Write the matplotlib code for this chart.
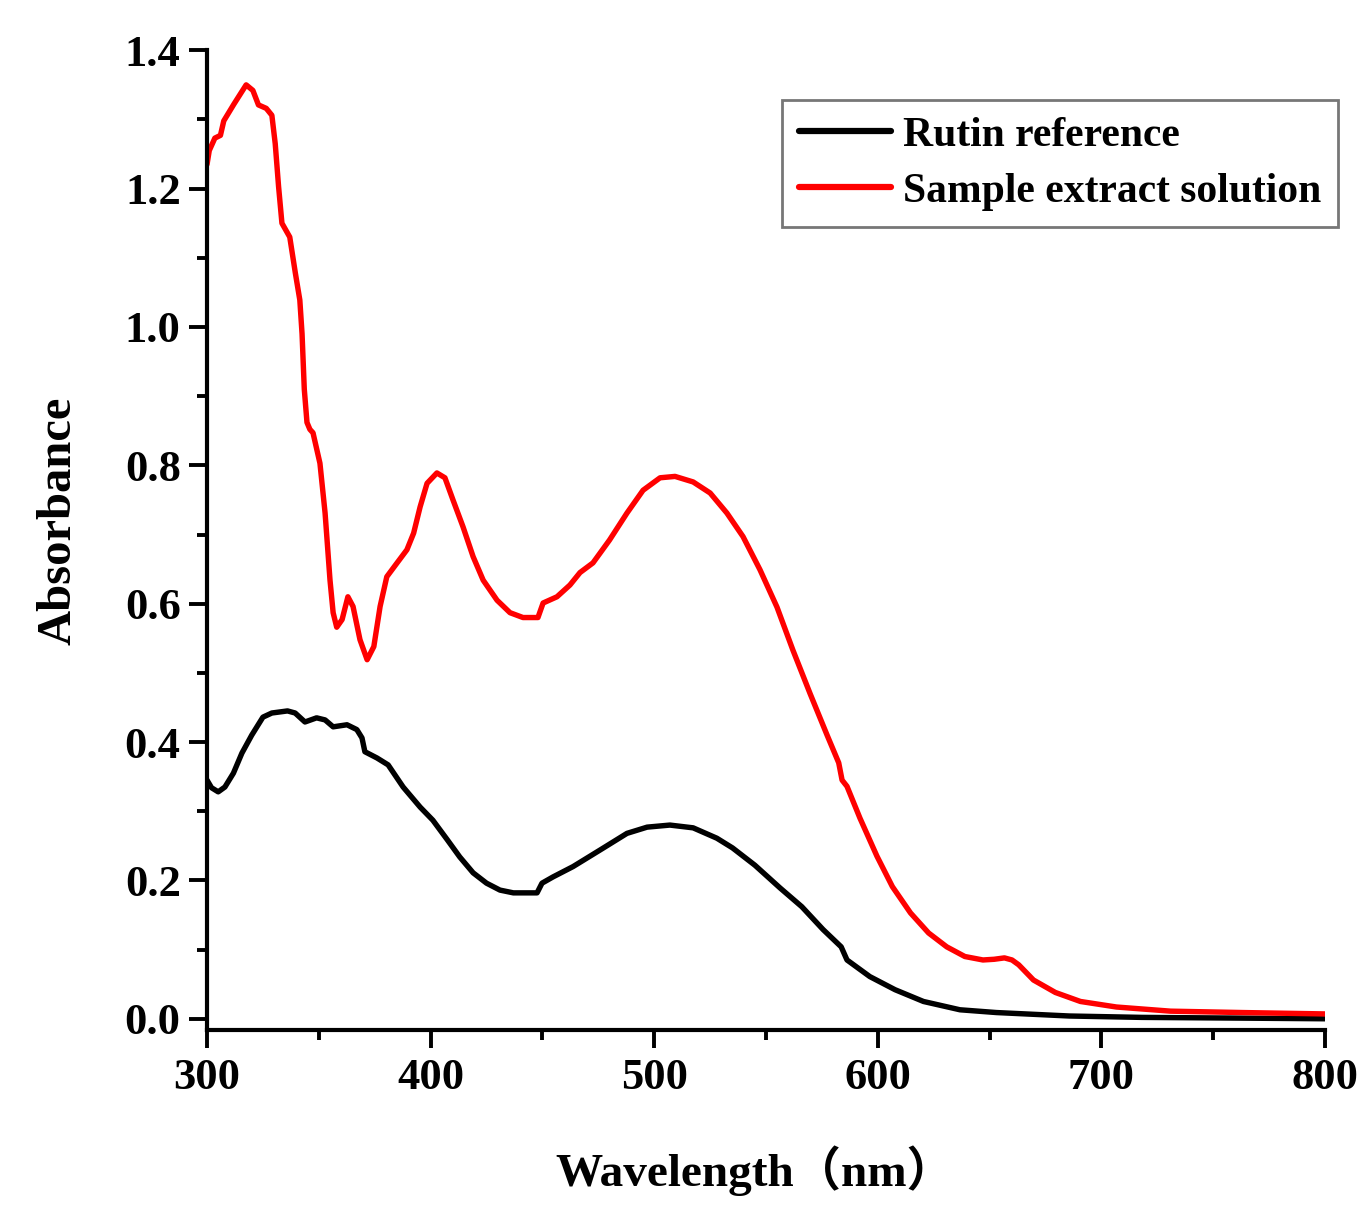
import matplotlib
matplotlib.use("Agg")
import matplotlib.pyplot as plt
from matplotlib.ticker import MultipleLocator, FormatStrFormatter

# Sample extract solution (red)
sample_wl = [300, 301, 303.5, 306, 307.5, 312, 317.5, 320.5, 323, 326.5, 329, 330.5,
             332, 333.5, 337, 339.5, 341.5, 342.5, 343.5, 344.7, 346, 347.4, 350.5,
             352.8, 355, 356.4, 358, 360.4, 363, 365.3, 368.4, 371.6, 374.6, 377.4,
             380.4, 385, 389.4, 392.4, 395.3, 398.4, 402.8, 406.4, 410, 414.5, 419,
             423.5, 429.7, 435.5, 441.3, 448, 450.3, 456.5, 462.3, 466.8, 472.6, 480,
             487.8, 495, 502.6, 509.3, 517.4, 525, 532.5, 539.7, 547.3, 554.9, 562,
             569.7, 577.3, 582.5, 584, 586.2, 592, 599.6, 606.5, 614.6, 622.7, 630.8,
             638.9, 647, 652, 656.6, 660, 663, 669.6, 679.4, 690.6, 706.7, 730.9, 763, 800]
sample_abs = [1.235, 1.255, 1.273, 1.277, 1.298, 1.322, 1.350, 1.342, 1.321, 1.316, 1.306, 1.265,
              1.203, 1.150, 1.130, 1.078, 1.039, 0.990, 0.910, 0.862, 0.852, 0.847, 0.803,
              0.731, 0.634, 0.587, 0.566, 0.577, 0.610, 0.596, 0.548, 0.519, 0.538, 0.596,
              0.639, 0.659, 0.678, 0.702, 0.740, 0.774, 0.789, 0.782, 0.750, 0.711, 0.668,
              0.634, 0.605, 0.587, 0.580, 0.580, 0.601, 0.610, 0.627, 0.645, 0.659, 0.692,
              0.731, 0.764, 0.782, 0.784, 0.776, 0.760, 0.731, 0.697, 0.649, 0.595, 0.533,
              0.470, 0.410, 0.370, 0.345, 0.336, 0.290, 0.235, 0.191, 0.153, 0.124, 0.104,
              0.090, 0.085, 0.086, 0.088, 0.085, 0.078, 0.056, 0.038, 0.025, 0.017, 0.011, 0.009, 0.007]

# Rutin reference (black)
rutin_wl = [300, 302, 305, 308, 311.8, 315.6, 320, 325, 329, 336, 339.4, 343.8, 349, 352.8,
            356.4, 362.6, 367, 369.3, 370.6, 376, 381, 387.7, 395.3, 401, 407.4, 413, 419,
            425, 431, 437, 447.6, 449.8, 454.7, 463.7, 475.8, 487.8, 496.8, 507, 517.4,
            528, 535, 545, 556.3, 566, 575.5, 583.6, 586.2, 596.4, 607.7, 620.4, 636.7,
            653, 685.6, 718, 760, 800]
rutin_abs = [0.345, 0.334, 0.328, 0.335, 0.355, 0.384, 0.410, 0.436, 0.442, 0.445, 0.442, 0.429,
             0.435, 0.432, 0.422, 0.425, 0.418, 0.406, 0.386, 0.377, 0.367, 0.335, 0.306, 0.287,
             0.259, 0.234, 0.211, 0.196, 0.186, 0.182, 0.182, 0.196, 0.205, 0.220, 0.244, 0.268,
             0.277, 0.280, 0.276, 0.261, 0.247, 0.222, 0.189, 0.162, 0.129, 0.104, 0.085, 0.061,
             0.042, 0.025, 0.013, 0.009, 0.004, 0.002, 0.001, 0.0]

plt.rcParams['font.family'] = ['Liberation Serif', 'Noto Sans CJK SC']
plt.rcParams['font.weight'] = 'bold'

fig = plt.figure(figsize=(13.71, 12.26), dpi=100)
ax = fig.add_axes([0.151, 0.160, 0.8155, 0.799])

ax.plot(rutin_wl, rutin_abs, color='black', lw=3.9, label='Rutin reference',
        solid_joinstyle='round', solid_capstyle='round')
ax.plot(sample_wl, sample_abs, color='red', lw=3.9, label='Sample extract solution',
        solid_joinstyle='round', solid_capstyle='round')

ax.set_xlim(300, 800)
ax.set_ylim(-0.016, 1.4)
for s in ['top', 'right']:
    ax.spines[s].set_visible(False)
for s in ['left', 'bottom']:
    ax.spines[s].set_linewidth(3)
ax.spines['left'].set_bounds(-0.016, 1.4)

ax.xaxis.set_major_locator(MultipleLocator(100))
ax.xaxis.set_minor_locator(MultipleLocator(50))
ax.yaxis.set_major_locator(MultipleLocator(0.2))
ax.yaxis.set_minor_locator(MultipleLocator(0.1))
ax.yaxis.set_major_formatter(FormatStrFormatter('%.1f'))
ax.tick_params(which='major', direction='out', length=13, width=2.8, labelsize=32, pad=6)
ax.tick_params(which='minor', direction='out', length=7, width=2.8)
ax.tick_params(axis='x', which='major', pad=7)

ax.set_xlabel('Wavelength（nm）', fontsize=34, fontweight='bold')
ax.set_ylabel('Absorbance', fontsize=35, fontweight='bold')
ax.xaxis.set_label_coords(0.49, -0.118)
ax.yaxis.set_label_coords(-0.113, 0.52)

leg = ax.legend(loc='upper right', bbox_to_anchor=(1.0116, 0.949), borderaxespad=0,
                fontsize=30, handlelength=2.2, handletextpad=0.3, labelspacing=0.42,
                borderpad=0.4, fancybox=False, framealpha=1)
leg.get_frame().set_edgecolor('#777777')
leg.get_frame().set_linewidth(2)
for line in leg.get_lines():
    line.set_linewidth(4.5)

plt.savefig('out.png', dpi=100)
plt.close()
